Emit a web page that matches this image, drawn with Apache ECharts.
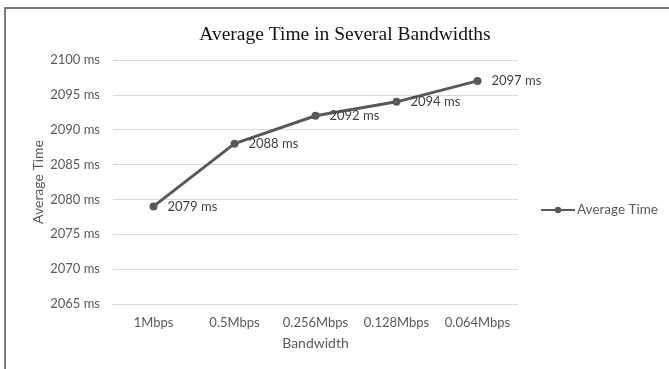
<!DOCTYPE html>
<html>
<head>
<meta charset="utf-8">
<script src="https://cdn.jsdelivr.net/npm/echarts@6/dist/echarts.min.js"></script>
<style>
  html, body { margin: 0; padding: 0; background: #fff; }
  #chart { width: 669px; height: 369px; }
</style>
</head>
<body>
<div id="chart"></div>
<script>
// Bandwidth categories and measured average times (ms)
const bandwidths = ['1Mbps', '0.5Mbps', '0.256Mbps', '0.128Mbps', '0.064Mbps'];
const averageTimes = [2079, 2088, 2092, 2094, 2097];
const yTicks = [2065, 2070, 2075, 2080, 2085, 2090, 2095, 2100];

const uiFont = 'Lato, "Open Sans", sans-serif';
const chart = echarts.init(document.getElementById('chart'), null, { renderer: 'canvas' });

chart.setOption({
  animation: false,
  backgroundColor: '#ffffff',
  title: {
    text: 'Average Time in Several Bandwidths',
    left: 340,
    textAlign: 'center',
    top: 20,
    textStyle: {
      fontFamily: '"Liberation Serif", "Times New Roman", serif',
      fontSize: 19.5,
      fontWeight: 'normal',
      color: '#111111'
    }
  },
  graphic: [{
    type: 'rect',
    shape: { x: 5, y: 8, width: 720, height: 420 },
    style: { fill: 'none', stroke: '#7a7a7a', lineWidth: 2 },
    silent: true,
    z: 100
  }],
  legend: {
    data: ['Average Time'],
    left: 535,
    top: 198,
    itemWidth: 34,
    itemHeight: 8,
    itemGap: 4,
    textStyle: { fontFamily: uiFont, fontSize: 13.5, color: '#595959', padding: [0, 0, 0, -3] }
  },
  grid: { left: 113, right: 151, top: 60, bottom: 65, containLabel: false },
  xAxis: {
    type: 'category',
    data: bandwidths,
    boundaryGap: true,
    name: 'Bandwidth',
    nameLocation: 'middle',
    nameGap: 32,
    nameMoveOverlap: false,
    nameTextStyle: { fontFamily: uiFont, fontSize: 14, color: '#595959' },
    axisLine: { show: true, lineStyle: { color: '#d9d9d9', width: 1 } },
    axisTick: { show: false },
    axisLabel: { interval: 0, hideOverlap: false, fontFamily: uiFont, fontSize: 13, color: '#595959', margin: 12 }
  },
  yAxis: {
    type: 'value',
    min: yTicks[0],
    max: yTicks[yTicks.length - 1],
    interval: 5,
    name: 'Average Time',
    nameLocation: 'middle',
    nameGap: 68,
    nameMoveOverlap: false,
    nameTextStyle: { fontFamily: uiFont, fontSize: 14, color: '#595959' },
    axisLine: { show: false },
    axisTick: { show: false },
    splitLine: { lineStyle: { color: '#d9d9d9', width: 1 } },
    axisLabel: {
      fontFamily: uiFont, fontSize: 13, color: '#595959', margin: 13,
      formatter: v => v + ' ms'
    }
  },
  series: [{
    name: 'Average Time',
    type: 'line',
    data: averageTimes,
    symbol: 'circle',
    symbolSize: 8,
    lineStyle: { color: '#595959', width: 3 },
    itemStyle: { color: '#595959' },
    label: {
      show: true,
      position: 'right',
      distance: 10,
      fontFamily: uiFont,
      fontSize: 13,
      color: '#404040',
      formatter: p => p.value + ' ms'
    }
  }]
});
</script>
</body>
</html>
